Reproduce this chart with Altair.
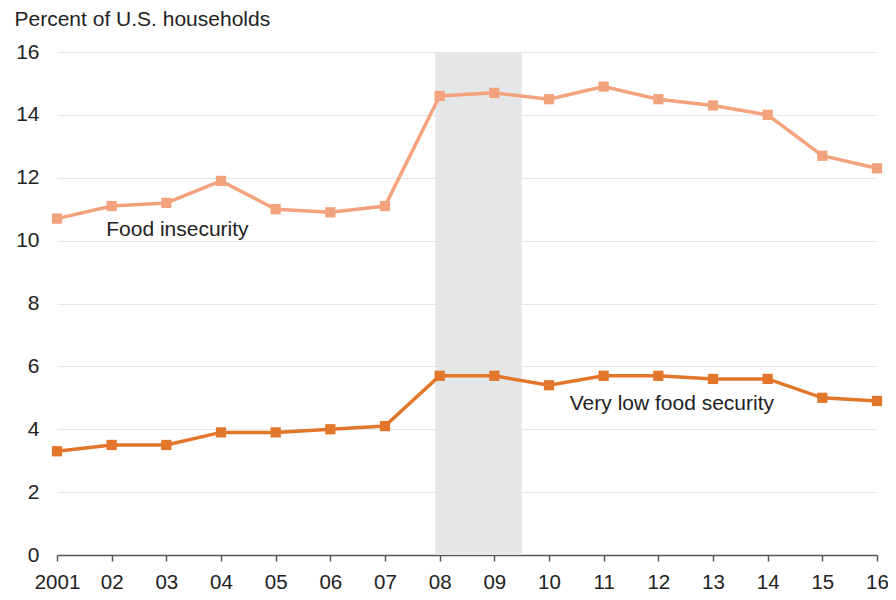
import altair as alt
import pandas as pd

years = list(range(2001, 2017))
food_insecurity = [10.7, 11.1, 11.2, 11.9, 11.0, 10.9, 11.1, 14.6, 14.7, 14.5, 14.9, 14.5, 14.3, 14.0, 12.7, 12.3]
very_low_food_security = [3.3, 3.5, 3.5, 3.9, 3.9, 4.0, 4.1, 5.7, 5.7, 5.4, 5.7, 5.7, 5.6, 5.6, 5.0, 4.9]
series_names = ["Food insecurity", "Very low food security"]
series_colors = ["#F3A27E", "#E2762A"]
recession = [2007.92, 2009.5]
label_x = [2001.90, 2010.38]
label_y = [10.16, 4.61]

FONT = "Liberation Sans"
TEXT = "#222222"
W, H = 820, 503

rows = []
for name, vals in zip(series_names, [food_insecurity, very_low_food_security]):
    for yr, v in zip(years, vals):
        rows.append({"year": yr, "value": v, "series": name})
df = pd.DataFrame(rows)

rec_df = pd.DataFrame({"start": [recession[0]], "end": [recession[1]]})
lab_df = pd.DataFrame({"label": series_names, "x": label_x, "y": label_y})

xscale = alt.Scale(domain=[2001, 2016], nice=False, zero=False)
yscale = alt.Scale(domain=[0, 16], nice=False)

x_axis = alt.Axis(
    values=years, format="d",
    labelExpr="datum.value == 2001 ? datum.label : slice(datum.label, 2)",
    labelOverlap=False, labelFlush=False,
    grid=False, domainColor="#555555", domainWidth=1.5,
    tickColor="#555555", tickWidth=1.5, tickSize=6,
    labelPadding=11, labelFont=FONT, labelFontSize=20.5, labelColor=TEXT,
    title=None,
)
y_axis = alt.Axis(
    values=list(range(0, 17, 2)), grid=True, gridColor="#E6E6E6", gridWidth=1,
    domain=False, ticks=False, labelPadding=18, labelOverlap=False, labelFlush=False,
    labelFont=FONT, labelFontSize=21, labelColor=TEXT,
    title="Percent of U.S. households", titleAngle=0, titleAlign="left",
    titleBaseline="alphabetic", titleX=-43, titleY=-27,
    titleFont=FONT, titleFontSize=21, titleFontWeight="normal", titleColor=TEXT,
)

band = alt.Chart(rec_df).mark_rect(color="#E5E6E8").encode(
    x=alt.X("start:Q", scale=xscale, axis=x_axis),
    x2="end:Q",
    y=alt.value(0),
    y2=alt.value(H),
)

color = alt.Color("series:N", scale=alt.Scale(domain=series_names, range=series_colors), legend=None)

lines = alt.Chart(df).mark_line(strokeWidth=3.5).encode(
    x=alt.X("year:Q", scale=xscale, axis=x_axis),
    y=alt.Y("value:Q", scale=yscale, axis=y_axis),
    color=color,
)
points = alt.Chart(df).mark_point(shape="square", filled=True, size=105, opacity=1).encode(
    x=alt.X("year:Q", scale=xscale),
    y=alt.Y("value:Q", scale=yscale),
    color=color,
)
labels = alt.Chart(lab_df).mark_text(
    align="left", baseline="alphabetic", font=FONT, fontSize=21, color=TEXT
).encode(
    x=alt.X("x:Q", scale=xscale),
    y=alt.Y("y:Q", scale=yscale),
    text="label:N",
)

chart = alt.layer(band, lines, points, labels).properties(
    width=W, height=H,
    autosize=alt.AutoSizeParams(type="none"),
    padding={"left": 49, "top": 44, "right": 11, "bottom": 37},
).configure_view(stroke=None)

chart.save("out.html", embed_options={"renderer": "svg", "actions": False})
